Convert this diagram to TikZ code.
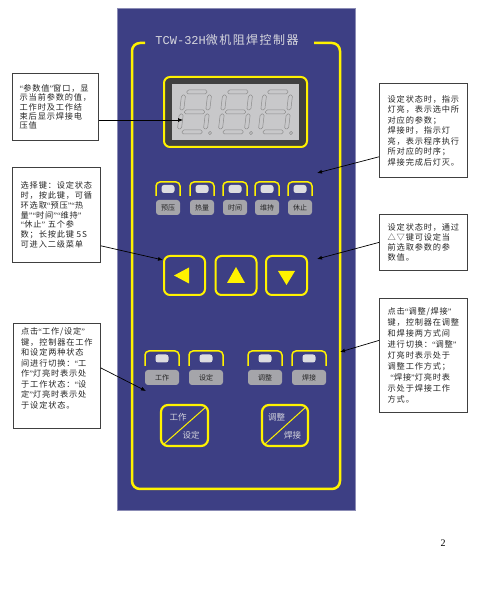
\documentclass[tikz,border=0pt]{standalone}
\usepackage{fontspec}
\setmainfont{Noto Sans CJK SC}
\newfontfamily\monofont{Liberation Mono}
\newfontfamily\pagefont{Liberation Serif}
\newfontfamily\titlefont[LetterSpace=12]{Noto Sans CJK SC}
\newfontfamily\notefont[LetterSpace=10]{Noto Sans CJK SC}
\usetikzlibrary{arrows.meta,positioning}

% 半角引号
\newcommand{\oq}{{\pagefont “}}
\newcommand{\cq}{{\pagefont ”}}

\definecolor{panelblue}{RGB}{61,63,132}
\definecolor{lcdgray}{RGB}{200,200,202}
\definecolor{keygray}{RGB}{165,165,170}
\definecolor{ledgray}{RGB}{220,220,224}
\definecolor{yel}{RGB}{255,242,0}
\definecolor{paneltext}{RGB}{215,215,222}

\tikzset{
  note/.style={draw=black!75, fill=white, line width=0.8pt, anchor=north west,
    align=left, inner xsep=5pt, inner ysep=4pt, text=black!85,
    font=\notefont\fontsize{8.2}{10.5}\selectfont},
  pointer/.style={-{Latex[length=5pt,width=4pt]}, line width=0.7pt},
  led/.style={fill=ledgray, rounded corners=2.5pt, minimum width=13pt,
    minimum height=8pt, inner sep=0pt},
  keylabel/.style={fill=keygray, rounded corners=3pt, minimum height=15pt,
    inner sep=0pt, text=black!85, font=\fontsize{7}{8}\selectfont},
  ledarc/.style={yel, line width=1.5pt, rounded corners=4pt},
  keybtn/.style={draw=yel, line width=2pt, rounded corners=6pt,
    minimum width=41pt, minimum height=39pt, inner sep=0pt},
  swbtn/.style={draw=yel, line width=2.2pt, rounded corners=7pt,
    minimum width=46pt, minimum height=41pt, inner sep=0pt},
  swtext/.style={text=paneltext, inner sep=0pt, font=\fontsize{8.5}{9}\selectfont},
  seg/.style={draw=black!45, line width=0.5pt, rounded corners=1.5pt}
}

% 数码管一位
\newcommand{\segdigit}[2]{%
  \begin{scope}[shift={(#1,#2)}, xslant=0.12]
    \foreach \a/\b/\c/\d in {3/39/23/43, 3/19/23/23, 3/-1/23/3,
                             -2/4/2/19, 24/4/28/19, -2/23/2/38, 24/23/28/38}
      \draw[seg] (\a,\b) rectangle (\c,\d);
    \draw[seg] (31,0) circle (1.6);
  \end{scope}}

\begin{document}
\begin{tikzpicture}[x=1pt,y=1pt]
\useasboundingbox (0,0) rectangle (485,600);

% 面板
\filldraw[fill=panelblue, draw=panelblue!60!white, line width=0.6pt] (117,90) rectangle (355,592);
\draw[yel, line width=2.5pt, rounded corners=8pt]
  (145,557) -- (132,557) -- (132,111) -- (340,111) -- (340,557) -- (314,557);
\node[text=paneltext, inner sep=0pt, font=\titlefont\fontsize{12}{14}\selectfont]
  (title) at (227,560) {{\monofont TCW-32H}微机阻焊控制器};

% 显示窗
\node[draw=yel, line width=2pt, fill=black!75, rounded corners=6pt,
  minimum width=143pt, minimum height=70pt] (disp) at (235.5,488) {};
\node[fill=lcdgray, minimum width=127pt, minimum height=56pt, inner sep=0pt]
  (lcd) at (disp.center) {};
\foreach \x in {179,220,260} {\segdigit{\x}{467}}

% 参数指示灯
\foreach \x/\t [count=\i] in {168/预压, 202/热量, 235/时间, 267/维持, 300/休止} {
  \draw[ledarc] (\x-12,404) -- (\x-12,418) -- (\x+12,418) -- (\x+12,404);
  \node[led] (led\i) at (\x,411) {};
  \node[keylabel, minimum width=24pt] (key\i) at (\x,392.5) {\t};
}

% 方向键
\node[keybtn] (btn1) at (184.5,324.5) {};
\node[keybtn] (btn2) at (236,324.5) {};
\node[keybtn] (btn3) at (286.5,324.5) {};
\fill[yel] ([xshift=-10.5pt]btn1.center) -- ([shift={(4.5pt,8pt)}]btn1.center)
  -- ([shift={(4.5pt,-8pt)}]btn1.center) -- cycle;
\fill[yel] ([yshift=8.5pt]btn2.center) -- ([shift={(9pt,-7.5pt)}]btn2.center)
  -- ([shift={(-9pt,-7.5pt)}]btn2.center) -- cycle;
\fill[yel] ([yshift=-9.5pt]btn3.center) -- ([shift={(8.5pt,4.5pt)}]btn3.center)
  -- ([shift={(-8.5pt,4.5pt)}]btn3.center) -- cycle;

% 状态指示灯
\foreach \x/\t [count=\i] in {162/工作, 206/设定, 265/调整, 309/焊接} {
  \draw[ledarc] (\x-17,234) -- (\x-17,249) -- (\x+17,249) -- (\x+17,234);
  \node[led] (sled\i) at (\x,241.5) {};
  \node[keylabel, minimum width=34pt] (skey\i) at (\x,222.5) {\t};
}

% 切换键
\node[swbtn, minimum width=47pt] (sw1) at (184.5,174.5) {};
\node[swbtn] (sw2) at (285,174.5) {};
\foreach \s in {sw1,sw2}
  \draw[yel, line width=1pt] ([shift={(4pt,3pt)}]\s.south west) -- ([shift={(-3pt,-3pt)}]\s.north east);
\node[swtext] (sw1a) at ([shift={(-6.5pt,8.5pt)}]sw1.center) {工作};
\node[swtext] (sw1b) at ([shift={(6.5pt,-9.5pt)}]sw1.center) {设定};
\node[swtext] (sw2a) at ([shift={(-8.5pt,8.5pt)}]sw2.center) {调整};
\node[swtext] (sw2b) at ([shift={(7.5pt,-9.5pt)}]sw2.center) {焊接};

% 说明框
\node[note, minimum width=86pt, minimum height=67pt,
  font=\notefont\fontsize{8.2}{9.4}\selectfont] (b1) at (12,527)
  {\oq 参数值\cq 窗口，显\\示当前参数的值，\\工作时及工作结\\束后显示焊接电\\压值};
\node[note, minimum width=88pt, minimum height=94pt] (b2) at (379,517)
  {设定状态时，指示\\灯亮，表示选中所\\对应的参数；\\焊接时，指示灯\\亮，表示程序执行\\所对应的时序；\\焊接完成后灯灭。};
\node[note, minimum width=88pt, minimum height=95pt,
  font=\notefont\fontsize{8.2}{9.9}\selectfont] (b3) at (12,433)
  {选择键：设定状态\\时，按此键，可循\\环选取\oq 预压\cq\oq 热\\量\cq\oq 时间\cq\oq 维持\cq\\
   \oq 休止\cq\ 五个参\\数；长按此键 5S\\可进入二级菜单};
\node[note, minimum width=88pt, minimum height=56pt,
  font=\notefont\fontsize{8.2}{10}\selectfont] (b4) at (379,386)
  {设定状态时，通过\\△▽键可设定当\\前选取参数的参\\数值。};
\node[note, minimum width=87pt, minimum height=105pt, text depth=16pt] (b5) at (13,277)
  {点击\oq 工作/设定\cq\\键，控制器在工作\\和设定两种状态\\间进行切换：\oq 工\\作\cq 灯亮时表示处\\于工作状态：\oq 设\\定\cq 灯亮时表示处\\于设定状态。};
\node[note, minimum width=88pt, minimum height=114pt,
  font=\notefont\fontsize{8.2}{11}\selectfont] (b6) at (379,302)
  {点击\oq 调整/焊接\cq\\键，控制器在调整\\和焊接两方式间\\进行切换：\oq 调整\cq\\灯亮时表示处于\\调整工作方式；\\\ \oq 焊接\cq 灯亮时表\\示处于焊接工作\\方式。};

% 指向点
\coordinate (t1) at (183,480);
\coordinate (t2) at (317,427);
\coordinate (t3) at (163,340);
\coordinate (t4) at (317,341);
\coordinate (t5) at (146,209);
\coordinate (t6) at (340,248);

\draw[pointer] (b1.east |- t1) -- (t1);
\draw[pointer] ([yshift=21pt]b2.south west) -- (t2);
\draw[pointer] ([yshift=17pt]b3.south east) -- (t3);
\draw[pointer] (b4.west) -- (t4);
\draw[pointer] ([yshift=8pt]b5.east) -- (t5);
\draw[pointer] ([yshift=15pt]b6.west) -- (t6);

% 页码
\node[inner sep=0pt, font=\pagefont\fontsize{10}{12}\selectfont] (pg) at (443,57) {2};
\end{tikzpicture}
\end{document}
